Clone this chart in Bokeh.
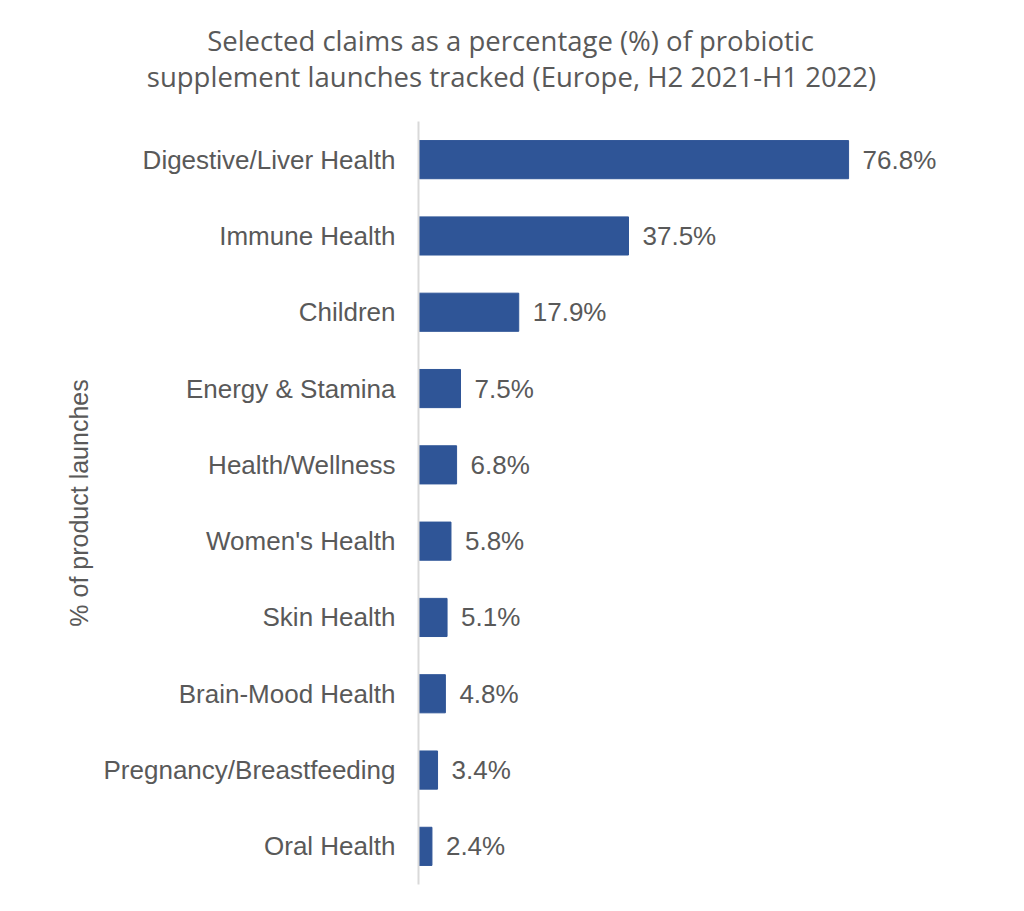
from bokeh.plotting import figure
from bokeh.models import Range1d, ColumnDataSource, Div
from bokeh.layouts import column
from bokeh.core.properties import value
from bokeh.embed import file_html
from bokeh.resources import INLINE

categories = ["Digestive/Liver Health", "Immune Health", "Children", "Energy & Stamina",
              "Health/Wellness", "Women's Health", "Skin Health", "Brain-Mood Health",
              "Pregnancy/Breastfeeding", "Oral Health"]
values = [76.8, 37.5, 17.9, 7.5, 6.8, 5.8, 5.1, 4.8, 3.4, 2.4]
value_labels = ["%.1f%%" % v for v in values]
title_lines = ["Selected claims as a percentage (%) of probiotic",
               "supplement launches tracked (Europe, H2 2021-H1 2022)"]
y_axis_title = "% of product launches"

TXT = "#595959"
BAR = "#2F5597"

# ---- title strip (its own small figure, so both lines can be centred on the page)
TW, TH = 1008, 100
t = figure(width=TW, height=TH, x_range=Range1d(0, TW), y_range=Range1d(0, TH),
           output_backend="svg", toolbar_location=None,
           min_border_left=0, min_border_right=0, min_border_top=0, min_border_bottom=0,
           x_axis_location=None, y_axis_location=None)
has_frame_align = "frame_align" in t.properties()
if has_frame_align:
    t.frame_align = False
t.outline_line_color = None
t.xgrid.grid_line_color = None
t.ygrid.grid_line_color = None
tsrc = ColumnDataSource(dict(x=[510, 511], y=[TH - 40, TH - 76], txt=title_lines))
t.text(x="x", y="y", text="txt", source=tsrc, text_align="center",
       text_baseline="middle", text_font=value("Open Sans"),
       text_font_size="27.5px", text_color=TXT)

if not has_frame_align:
    t = Div(text="<br>".join(title_lines), width=TW, height=TH,
            styles={"text-align": "center", "font-family": "Open Sans",
                    "font-size": "27.5px", "color": TXT, "line-height": "36px",
                    "padding-top": "22px", "box-sizing": "border-box"})

# ---- main bar chart
src = ColumnDataSource(dict(cat=categories, val=values, lab=value_labels))

p = figure(width=1008, height=805, y_range=list(reversed(categories)),
           x_range=Range1d(0, 100), output_backend="svg", toolbar_location=None,
           min_border_left=418, min_border_right=30, min_border_top=21,
           min_border_bottom=21)
p.outline_line_color = None
p.background_fill_color = "white"
p.border_fill_color = "white"

p.hbar(y="cat", right="val", left=0, height=0.5, source=src,
       fill_color=BAR, line_color=BAR)
p.text(x="val", y="cat", text="lab", source=src, x_offset=14,
       text_align="left", text_baseline="middle",
       text_font=value("Liberation Sans"), text_font_size="26px", text_color=TXT)

p.xaxis.visible = False
p.xgrid.grid_line_color = None
p.ygrid.grid_line_color = None

ya = p.yaxis[0]
ya.axis_line_color = "#d9d9d9"
ya.axis_line_width = 2
ya.major_tick_line_color = None
ya.minor_tick_line_color = None
ya.major_label_text_font = "Liberation Sans"
ya.major_label_text_font_size = "26px"
ya.major_label_text_color = TXT
ya.major_label_standoff = 17
ya.axis_label = y_axis_title
ya.axis_label_text_font = "Liberation Sans"
ya.axis_label_text_font_size = "25px"
ya.axis_label_text_font_style = "normal"
ya.axis_label_text_color = TXT
ya.axis_label_standoff = 8

layout = column(t, p, spacing=0)
open("out.html", "w").write(file_html(layout, INLINE))
